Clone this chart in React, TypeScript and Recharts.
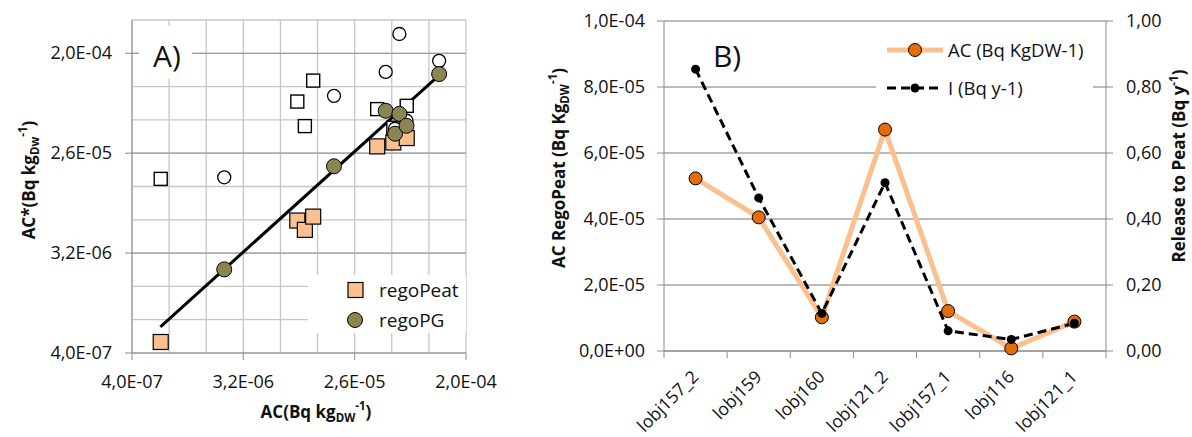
import React from 'react';
import {
  ScatterChart,
  Scatter,
  ComposedChart,
  Line,
  XAxis,
  YAxis,
  CartesianGrid,
  ReferenceLine,
  Legend,
} from 'recharts';

// ---------- shared styling ----------
const FONT = '"Open Sans", "DejaVu Sans", sans-serif';
const TEXT = '#111111';
const AXIS = '#8c8c8c';
const GRID_MINOR = '#c6c6c6';
const GRID_MAJOR = '#9c9c9c';
const PEAT_FILL = '#fac090';
const PG_FILL = '#8b8552';
const AC_DOT = '#e46c0a';
const TICK_FS = 18;
const SITE_FS = 17.5;
const TITLE_FS = 17;

// ---------- panel A: AC* versus AC (log2 grid) ----------
const logTicks = [4e-7, 8e-7, 1.6e-6, 3.2e-6, 6.4e-6, 1.28e-5, 2.56e-5, 5.12e-5, 1.024e-4, 2.048e-4, 4.096e-4];
const logTickLabels = ['4,0E-07', '', '', '3,2E-06', '', '', '2,6E-05', '', '', '2,0E-04', ''];
const majorLogTicks = [3.2e-6, 2.56e-5, 2.048e-4];
const xTicksA = logTicks.slice(0, 10);

const regoPeatAC = [6.84e-7, 8.77e-6, 1.01e-5, 1.18e-5, 3.9e-5, 5.27e-5, 6.77e-5];
const regoPeatACstar = [5.03e-7, 6.3e-6, 5.19e-6, 6.84e-6, 2.95e-5, 3.2e-5, 3.51e-5];
const regoPeatACorig = [1.5e-5, 7.5e-5, 4.5e-5, 1.16e-4, 6.41e-5, 4.35e-5, 6.86e-5];

const regoPGAC = [2.24e-6, 1.74e-5, 4.57e-5, 5.44e-5, 5.9e-5, 6.74e-5, 1.24e-4];
const regoPGACstar = [2.28e-6, 1.95e-5, 6.19e-5, 3.84e-5, 5.81e-5, 4.53e-5, 1.33e-4];
const regoPGACorig = [1.55e-5, 8.45e-5, 1.39e-4, 4.26e-5, 3.06e-4, 5.03e-5, 1.75e-4];

const fitAC = [6.8e-7, 1.15e-4];
const fitACstar = [6.9e-7, 1.2e-4];

const legendA = ['regoPeat', 'regoPG'];

// ---------- panel B: AC and release per site ----------
const sites = ['lobj157_2', 'lobj159', 'lobj160', 'lobj121_2', 'lobj157_1', 'lobj116', 'lobj121_1'];
const acRegoPeat = [5.23e-5, 4.05e-5, 1.02e-5, 6.71e-5, 1.21e-5, 8e-7, 8.9e-6];
const releaseToPeat = [0.854, 0.464, 0.114, 0.51, 0.061, 0.035, 0.084];
const acTicks = [0, 2e-5, 4e-5, 6e-5, 8e-5, 1e-4];
const acTickLabels = ['0,0E+00', '2,0E-05', '4,0E-05', '6,0E-05', '8,0E-05', '1,0E-04'];
const releaseTicks = [0, 0.2, 0.4, 0.6, 0.8, 1];
const releaseTickLabels = ['0,00', '0,20', '0,40', '0,60', '0,80', '1,00'];
const legendB = ['AC (Bq KgDW-1)', 'I (Bq y-1)'];

// ---------- layout ----------
const W_A = 530;
const H = 437;
const MARGIN_A = { top: 20, right: 64, bottom: 83, left: 131 };
const LEFT_B = 530;
const W_B = 662;
const MARGIN_B = { top: 21, right: 85, bottom: 85, left: 133 };
const PLOT_B_W = W_B - MARGIN_B.left - MARGIN_B.right - 2;

const zip = (xs: number[], ys: number[]) => xs.map((x, i) => ({ x, y: ys[i] }));

const peatPts = zip(regoPeatAC, regoPeatACstar);
const peatOrigPts = zip(regoPeatAC, regoPeatACorig);
const pgPts = zip(regoPGAC, regoPGACstar);
const pgOrigPts = zip(regoPGAC, regoPGACorig);

const siteRows = sites.map((site, i) => ({ site, ac: acRegoPeat[i], rel: releaseToPeat[i] }));

const logLabel = (v: number) => {
  const i = logTicks.findIndex((t) => Math.abs(t - v) / t < 1e-6);
  return i >= 0 ? logTickLabels[i] : '';
};

// ---------- marker shapes ----------
const OpenSquare = (p: any) => (
  <rect x={p.cx - 6.5} y={p.cy - 6.5} width={13} height={13} fill="#fff" stroke="#000" strokeWidth={1.4} />
);
const OpenCircle = (p: any) => <circle cx={p.cx} cy={p.cy} r={6.5} fill="#fff" stroke="#000" strokeWidth={1.3} />;
const PeatSquare = (p: any) => (
  <rect x={p.cx - 7.5} y={p.cy - 7.5} width={15} height={15} fill={PEAT_FILL} stroke="#000" strokeWidth={1.2} />
);
const PGCircle = (p: any) => <circle cx={p.cx} cy={p.cy} r={7.5} fill={PG_FILL} stroke="#000" strokeWidth={1} />;

// ---------- tick renderers ----------
const LogXTick = (p: any) => {
  const label = logLabel(p.payload.value);
  if (!label) return <g />;
  return (
    <g>
      <line x1={p.x} y1={p.y} x2={p.x} y2={p.y + 7} stroke={AXIS} />
      <text x={p.x} y={p.y + 35} textAnchor="middle" fontFamily={FONT} fontSize={TICK_FS} fill={TEXT}>
        {label}
      </text>
    </g>
  );
};

const LogYTick = (p: any) => {
  const label = logLabel(p.payload.value);
  if (!label) return <g />;
  return (
    <g>
      <line x1={p.x - 7} y1={p.y} x2={p.x} y2={p.y} stroke={AXIS} />
      <text x={p.x - 20} y={p.y + 6} textAnchor="end" fontFamily={FONT} fontSize={TICK_FS} fill={TEXT}>
        {label}
      </text>
    </g>
  );
};

const AcTick = (p: any) => {
  const i = acTicks.findIndex((t) => Math.abs(t - p.payload.value) < 1e-12);
  return (
    <g>
      <line x1={p.x - 7} y1={p.y} x2={p.x} y2={p.y} stroke={AXIS} />
      <text x={p.x - 19} y={p.y + 6} textAnchor="end" fontFamily={FONT} fontSize={TICK_FS} fill={TEXT}>
        {acTickLabels[i]}
      </text>
    </g>
  );
};

const ReleaseTick = (p: any) => {
  const i = releaseTicks.findIndex((t) => Math.abs(t - p.payload.value) < 1e-9);
  return (
    <g>
      <line x1={p.x} y1={p.y} x2={p.x + 7} y2={p.y} stroke={AXIS} />
      <text x={p.x + 20} y={p.y + 6} textAnchor="start" fontFamily={FONT} fontSize={TICK_FS} fill={TEXT}>
        {releaseTickLabels[i]}
      </text>
    </g>
  );
};

const SiteTick = (p: any) => {
  const band = PLOT_B_W / sites.length;
  const isLast = p.payload.value === sites[sites.length - 1];
  const tx = p.x + 4;
  const ty = p.y + 27;
  return (
    <g>
      <line x1={p.x - band / 2} y1={p.y} x2={p.x - band / 2} y2={p.y + 7} stroke={AXIS} />
      {isLast && <line x1={p.x + band / 2} y1={p.y} x2={p.x + band / 2} y2={p.y + 7} stroke={AXIS} />}
      <text
        x={tx}
        y={ty}
        transform={`rotate(-45 ${tx} ${ty})`}
        textAnchor="end"
        fontFamily={FONT}
        fontSize={SITE_FS}
        fill={TEXT}
      >
        {p.payload.value}
      </text>
    </g>
  );
};

// ---------- titles ----------
type TitleProps = { x: number; y: number; rotate?: boolean; main: string; sub?: string; sup: string; tail: string };
const AxisTitle = ({ x, y, rotate, main, sub, sup, tail }: TitleProps) => (
  <text
    x={x}
    y={y}
    transform={rotate ? `rotate(-90 ${x} ${y})` : undefined}
    textAnchor="middle"
    fontFamily={FONT}
    fontWeight={700}
    fontSize={TITLE_FS}
    fill={TEXT}
  >
    {main}
    {sub ? (
      <>
        <tspan fontSize={11.5} dy={4}>{sub}</tspan>
        <tspan fontSize={11.5} dy={-12}>{sup}</tspan>
        <tspan dy={8}>{tail}</tspan>
      </>
    ) : (
      <>
        <tspan fontSize={11.5} dy={-7}>{sup}</tspan>
        <tspan dy={7}>{tail}</tspan>
      </>
    )}
  </text>
);

const renderTitleA_Y = () => (
  <g>
    <AxisTitle x={35} y={180} rotate main="AC*(Bq kg" sub="Dw" sup="-1" tail=")" />
    <rect x={139} y={26} width={53} height={53} fill="#fff" />
    <text x={167} y={67} textAnchor="middle" fontFamily={FONT} fontSize={30} fill={TEXT}>
      A)
    </text>
  </g>
);

const renderTitleA_X = () => <AxisTitle x={316} y={418} main="AC(Bq kg" sub="DW" sup="-1" tail=")" />;

const renderTitleB_Left = () => (
  <g>
    <AxisTitle x={565 - LEFT_B} y={168} rotate main="AC RegoPeat (Bq Kg" sub="DW" sup="-1" tail=")" />
    <text x={727 - LEFT_B} y={67} textAnchor="middle" fontFamily={FONT} fontSize={30} fill={TEXT}>
      B)
    </text>
  </g>
);

const renderTitleB_Right = () => (
  <AxisTitle x={1185 - LEFT_B} y={166} rotate main="Release to Peat (Bq y" sup="-1" tail=")" />
);

// ---------- legends ----------
const LegendA = () => (
  <svg width={158} height={58} style={{ display: 'block', background: '#fff' }}>
    <rect x={40} y={7.5} width={15} height={15} fill={PEAT_FILL} stroke="#000" strokeWidth={1.2} />
    <text x={71} y={21.5} fontFamily={FONT} fontSize={19} fill={TEXT}>{legendA[0]}</text>
    <circle cx={47} cy={45} r={7.5} fill={PG_FILL} stroke="#000" strokeWidth={1} />
    <text x={71} y={51.5} fontFamily={FONT} fontSize={19} fill={TEXT}>{legendA[1]}</text>
  </svg>
);

const LegendB = () => (
  <svg width={217} height={78} style={{ display: 'block', background: '#fff' }}>
    <line x1={11} y1={22} x2={67} y2={22} stroke={PEAT_FILL} strokeWidth={5} />
    <circle cx={39} cy={22} r={6.5} fill={AC_DOT} stroke="#000" strokeWidth={1} />
    <text x={72} y={28.5} fontFamily={FONT} fontSize={18.5} fill={TEXT}>{legendB[0]}</text>
    <line x1={11} y1={60} x2={67} y2={60} stroke="#000" strokeWidth={3} strokeDasharray="9 5" />
    <circle cx={39} cy={60} r={4.5} fill="#000" />
    <text x={72} y={66.5} fontFamily={FONT} fontSize={18.5} fill={TEXT}>{legendB[1]}</text>
  </svg>
);

// ---------- series dots (panel B) ----------
const AcDot = (p: any) => <circle key={`ac-${p.index}`} cx={p.cx} cy={p.cy} r={6.5} fill={AC_DOT} stroke="#000" strokeWidth={1} />;
const RelDot = (p: any) => <circle key={`rel-${p.index}`} cx={p.cx} cy={p.cy} r={4.5} fill="#000" />;

export default function App() {
  return (
    <div style={{ position: 'absolute', left: 0, top: 0, width: 1192, height: H, background: '#fff' }}>
      <div style={{ position: 'absolute', left: 0, top: 0 }}>
        <ScatterChart width={W_A} height={H} margin={MARGIN_A}>
          <CartesianGrid stroke={GRID_MINOR} strokeWidth={1.3} />
          {majorLogTicks.map((v) => (
            <ReferenceLine key={v} y={v} stroke={GRID_MAJOR} strokeWidth={1.3} />
          ))}
          <XAxis
            type="number"
            dataKey="x"
            scale="log"
            domain={[logTicks[0], logTicks[9]]}
            allowDataOverflow
            ticks={xTicksA}
            interval={0}
            tick={<LogXTick />}
            tickLine={false}
            tickSize={0}
            tickMargin={0}
            height={1}
            stroke={AXIS}
            label={renderTitleA_X}
          />
          <YAxis
            type="number"
            dataKey="y"
            scale="log"
            domain={[logTicks[0], logTicks[10]]}
            allowDataOverflow
            ticks={logTicks}
            interval={0}
            tick={<LogYTick />}
            tickLine={false}
            tickSize={0}
            tickMargin={0}
            width={1}
            stroke={AXIS}
            label={renderTitleA_Y}
          />
          <Scatter name="regoPeat AC*" data={peatOrigPts} shape={OpenSquare} isAnimationActive={false} legendType="none" />
          <Scatter name="regoPG AC*" data={pgOrigPts} shape={OpenCircle} isAnimationActive={false} legendType="none" />
          <Scatter name={legendA[0]} data={peatPts} shape={PeatSquare} isAnimationActive={false} />
          <Scatter name={legendA[1]} data={pgPts} shape={PGCircle} isAnimationActive={false} />
          <ReferenceLine
            segment={[
              { x: fitAC[0], y: fitACstar[0] },
              { x: fitAC[1], y: fitACstar[1] },
            ]}
            stroke="#000"
            strokeWidth={3}
          />
          <Legend
            verticalAlign="middle"
            content={() => <LegendA />}
            wrapperStyle={{ left: 308, top: 275, width: 158, height: 58 }}
          />
        </ScatterChart>
      </div>
      <div style={{ position: 'absolute', left: LEFT_B, top: 0 }}>
        <ComposedChart width={W_B} height={H} data={siteRows} margin={MARGIN_B}>
          <CartesianGrid yAxisId="left" vertical={false} stroke="#a3a3a3" strokeWidth={1.3} />
          <XAxis
            dataKey="site"
            type="category"
            scale="band"
            interval={0}
            tick={<SiteTick />}
            tickLine={false}
            tickSize={0}
            tickMargin={0}
            height={1}
            stroke={AXIS}
          />
          <YAxis
            yAxisId="left"
            type="number"
            domain={[0, 1e-4]}
            ticks={acTicks}
            interval={0}
            tick={<AcTick />}
            tickLine={false}
            tickSize={0}
            tickMargin={0}
            width={1}
            stroke={AXIS}
            label={renderTitleB_Left}
          />
          <YAxis
            yAxisId="right"
            orientation="right"
            type="number"
            domain={[0, 1]}
            ticks={releaseTicks}
            interval={0}
            tick={<ReleaseTick />}
            tickLine={false}
            tickSize={0}
            tickMargin={0}
            width={1}
            stroke={AXIS}
            label={renderTitleB_Right}
          />
          <Line
            yAxisId="left"
            type="linear"
            dataKey="ac"
            name={legendB[0]}
            stroke={PEAT_FILL}
            strokeWidth={5}
            dot={AcDot}
            activeDot={false}
            isAnimationActive={false}
          />
          <Line
            yAxisId="right"
            type="linear"
            dataKey="rel"
            name={legendB[1]}
            stroke="#000"
            strokeWidth={3}
            strokeDasharray="9 5"
            dot={RelDot}
            activeDot={false}
            isAnimationActive={false}
          />
          <Legend
            verticalAlign="middle"
            content={() => <LegendB />}
            wrapperStyle={{ left: 876 - LEFT_B, top: 28, width: 217, height: 78 }}
          />
        </ComposedChart>
      </div>
    </div>
  );
}
